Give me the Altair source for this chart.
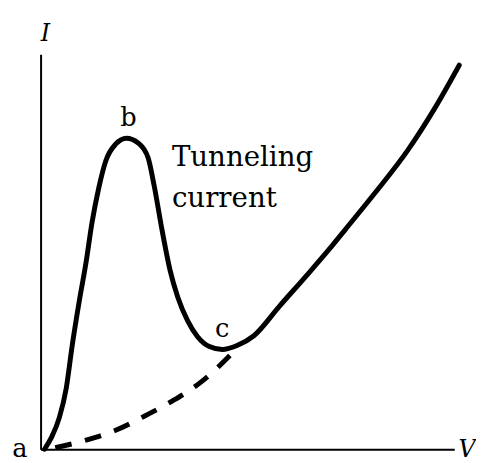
import altair as alt
import pandas as pd

# Main I-V curve of the tunnel diode (V, I in arbitrary units)
main_v = [0.095, 0.263, 0.453, 0.621, 0.764, 0.931, 1.098, 1.241, 1.408, 1.575, 1.814,
          2.076, 2.363, 2.601, 2.745, 2.936, 3.126, 3.317, 3.556, 3.795, 4.081,
          4.391, 4.749, 5.155, 5.776, 6.492, 7.064, 7.375, 8.091, 8.878, 9.523, 10.12]
main_i = [0.0, 0.30, 0.80, 1.55, 2.625, 3.725, 4.725, 5.725, 6.625, 7.30, 7.725,
          7.875, 7.75, 7.375, 6.675, 5.55, 4.55, 3.85, 3.25, 2.85, 2.60,
          2.525, 2.625, 2.875, 3.625, 4.475, 5.175, 5.575, 6.5, 7.575, 8.625, 9.725]

# Dashed (ordinary diode) current from a to c
dash_v = [0.167, 1.098, 1.814, 2.530, 3.198, 3.914, 4.630]
dash_i = [0.0, 0.23, 0.48, 0.85, 1.23, 1.73, 2.43]

# Annotations
upright_text = ["a", "b", "c", "Tunneling", "current"]
upright_v = [-0.501, 2.124, 4.391, 3.174, 3.174]
upright_i = [-0.2, 8.175, 2.85, 7.175, 6.125]
upright_align = ["center", "center", "center", "left", "left"]

italic_text = ["I", "V"]
italic_v = [0.119, 10.31]
italic_i = [10.35, -0.2]

main_df = pd.DataFrame({"V": main_v, "I": main_i, "k": list(range(len(main_v)))})
dash_df = pd.DataFrame({"V": dash_v, "I": dash_i, "k": list(range(len(dash_v)))})
up_df = pd.DataFrame({"t": upright_text, "V": upright_v, "I": upright_i, "al": upright_align})
it_df = pd.DataFrame({"t": italic_text, "V": italic_v, "I": italic_i})

xs = alt.Scale(domain=[0, 10], nice=False, zero=False)
ys = alt.Scale(domain=[0, 10], nice=False, zero=False)
ax = dict(labels=False, ticks=False, grid=False, title=None, domain=True,
          domainColor="black", domainWidth=2)

main = alt.Chart(main_df).mark_line(
    color="black", strokeWidth=5, interpolate="monotone", clip=False, strokeCap="round"
).encode(
    x=alt.X("V:Q", scale=xs, axis=alt.Axis(**ax)),
    y=alt.Y("I:Q", scale=ys, axis=alt.Axis(**ax)),
    order="k:Q",
)

dashed = alt.Chart(dash_df).mark_line(
    color="black", strokeWidth=5, interpolate="monotone", strokeDash=[17, 14], strokeDashOffset=-8
).encode(x=alt.X("V:Q", scale=xs), y=alt.Y("I:Q", scale=ys), order="k:Q")

up_left = alt.Chart(up_df[up_df.al == "left"]).mark_text(
    font="DejaVu Serif", fontSize=28, align="left", baseline="alphabetic", color="black"
).encode(x=alt.X("V:Q", scale=xs), y=alt.Y("I:Q", scale=ys), text="t:N")

up_center = alt.Chart(up_df[up_df.al == "center"]).mark_text(
    font="DejaVu Serif", fontSize=26, align="center", baseline="alphabetic", color="black"
).encode(x=alt.X("V:Q", scale=xs), y=alt.Y("I:Q", scale=ys), text="t:N")

italic = alt.Chart(it_df).mark_text(
    font="DejaVu Serif", fontSize=24, fontStyle="italic", align="center",
    baseline="alphabetic", color="black"
).encode(x=alt.X("V:Q", scale=xs), y=alt.Y("I:Q", scale=ys), text="t:N")

chart = alt.layer(main, dashed, up_left, up_center, italic).properties(
    width=419, height=400,
    autosize=alt.AutoSizeParams(type="none"),
    padding={"left": 33, "top": 44, "right": 22, "bottom": 11},
    background="white",
).configure_view(stroke=None)

chart.save("out.html", embed_options={"renderer": "svg", "actions": False})
